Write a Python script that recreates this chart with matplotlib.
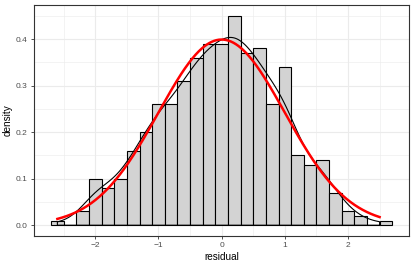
import numpy as np
import matplotlib
matplotlib.use('Agg')
import matplotlib.pyplot as plt
from matplotlib.ticker import MultipleLocator

plt.rcParams['font.family'] = ['Liberation Sans', 'DejaVu Sans']

# histogram of residuals, binwidth 0.2 (density scale)
bin_edges = np.round(np.arange(-2.7, 2.71, 0.2), 2)
density = [0.01, 0.00, 0.03, 0.10, 0.08, 0.10, 0.16, 0.20, 0.26, 0.26, 0.31, 0.36, 0.39, 0.39,
           0.45, 0.37, 0.38, 0.26, 0.34, 0.15, 0.13, 0.14, 0.07, 0.03, 0.02, 0.00, 0.01]
resid_min, resid_max = -2.6, 2.5   # range of the residuals
n_obs = 500

centers = (bin_edges[:-1] + bin_edges[1:]) / 2
counts = np.round(np.array(density) * 0.2 * n_obs)

# kernel density estimate (gaussian, nrd0 bandwidth) from the binned data
m = np.sum(counts * centers) / counts.sum()
sd = np.sqrt(np.sum(counts * (centers - m) ** 2) / (counts.sum() - 1))
bw = 0.9 * sd * counts.sum() ** -0.2
bw = np.sqrt(bw ** 2 - 0.2 ** 2 / 12)   # take out the spread added by binning
xs = np.linspace(resid_min, resid_max, 400)
kde = np.sum(counts[None, :] * np.exp(-0.5 * ((xs[:, None] - centers[None, :]) / bw) ** 2), axis=1)
kde = kde / (counts.sum() * bw * np.sqrt(2 * np.pi))

# standard normal reference curve
norm = np.exp(-0.5 * xs ** 2) / np.sqrt(2 * np.pi)

fig = plt.figure(figsize=(4.15, 2.67), dpi=100)
ax = fig.add_axes([34 / 415, 1 - 235.7 / 267, (409.3 - 34) / 415, (235.7 - 5.3) / 267])

ax.bar(bin_edges[:-1], density, width=0.2, align='edge', color='#d3d3d3',
       edgecolor='black', linewidth=0.8, zorder=2)
ax.fill(np.r_[xs[0], xs, xs[-1]], np.r_[0, kde, 0], facecolor='none',
        edgecolor='black', linewidth=0.8, zorder=3)
ax.plot(xs, norm, color='red', linewidth=1.8, zorder=4)

ax.set_xlim(-2.97, 2.97)
ax.set_ylim(-0.0225, 0.4725)
ax.xaxis.set_major_locator(MultipleLocator(1))
ax.xaxis.set_minor_locator(MultipleLocator(0.5))
ax.yaxis.set_major_locator(MultipleLocator(0.1))
ax.yaxis.set_minor_locator(MultipleLocator(0.05))
ax.set_yticks([0, 0.1, 0.2, 0.3, 0.4])
ax.set_yticklabels(['0.0', '0.1', '0.2', '0.3', '0.4'])
ax.set_xticks([-2, -1, 0, 1, 2])
ax.set_xticklabels(['\u22122', '\u22121', '0', '1', '2'])

ax.grid(which='major', color='#ebebeb', linewidth=0.8, zorder=0)
ax.grid(which='minor', color='#ebebeb', linewidth=0.4, zorder=0)
ax.set_axisbelow(True)
for s in ax.spines.values():
    s.set_color('#333333')
    s.set_linewidth(0.8)
ax.tick_params(which='major', length=2.5, width=0.6, color='#333333', labelsize=6,
               labelcolor='#4d4d4d', pad=2)
ax.tick_params(which='minor', length=0)

ax.set_xlabel('residual', fontsize=7.2, labelpad=2)
ax.set_ylabel('density', fontsize=7.2, labelpad=2)

fig.savefig('out.png', dpi=100)
